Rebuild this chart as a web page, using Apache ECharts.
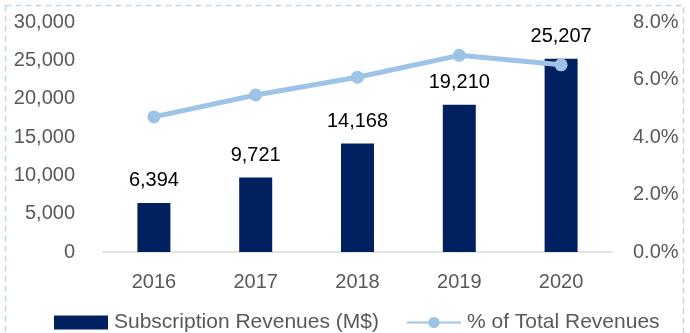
<!DOCTYPE html>
<html><head><meta charset="utf-8">
<script src="https://cdn.jsdelivr.net/npm/echarts@6/dist/echarts.min.js"></script>
<style>html,body{margin:0;padding:0;background:#fff}#c{width:690px;height:333px}</style>
</head><body><div id="c"></div>
<script>
const categories = ['2016','2017','2018','2019','2020'];
const subscriptionRevenues = [6394, 9721, 14168, 19210, 25207];
const pctOfTotal = [4.70, 5.46, 6.08, 6.84, 6.51];
const leftTicks = [0, 5000, 10000, 15000, 20000, 25000, 30000];
const rightTicks = [0, 2, 4, 6, 8];

const FONT = 'Liberation Sans';
const chart = echarts.init(document.getElementById('c'), null, {renderer:'canvas'});
chart.setOption({
  animation: false,
  textStyle: {fontFamily: FONT},
  graphic: [{
    type: 'rect', shape: {x: 5.5, y: 5.5, width: 678, height: 340},
    style: {fill: 'none', stroke: '#BDD7EE', lineWidth: 1.5, lineDash: [6, 4]}, silent: true
  }],
  grid: {left: 103, right: 78, top: 22, bottom: 81},
  legend: {
    top: 307, left: 49, itemGap: 27, itemWidth: 54, itemHeight: 14,
    textStyle: {fontFamily: FONT, fontSize: 21, color: '#595959', padding: [0, 0, 0, 1]},
    data: [
      {name: 'Subscription Revenues (M$)', icon: 'rect'},
      {name: '% of Total Revenues'}
    ]
  },
  xAxis: {
    type: 'category', data: categories,
    axisLine: {show: true, lineStyle: {color: '#D9D9D9', width: 1.5}}, axisTick: {show: false},
    axisLabel: {fontFamily: FONT, fontSize: 20, color: '#595959', margin: 20}
  },
  yAxis: [{
    type: 'value', min: 0, max: 30000, interval: 5000,
    splitLine: {show: false}, axisLine: {show: false}, axisTick: {show: false},
    axisLabel: {fontFamily: FONT, fontSize: 20, color: '#595959', margin: 28,
      formatter: v => leftTicks.includes(v) ? v.toLocaleString('en-US') : ''}
  }, {
    type: 'value', min: 0, max: 8, interval: 2,
    splitLine: {show: false}, axisLine: {show: false}, axisTick: {show: false},
    axisLabel: {fontFamily: FONT, fontSize: 20, color: '#595959', margin: 21,
      formatter: v => rightTicks.includes(v) ? v.toFixed(1) + '%' : ''}
  }],
  series: [{
    name: 'Subscription Revenues (M$)', type: 'bar', data: subscriptionRevenues,
    barWidth: 33, itemStyle: {color: '#002060'},
    label: {show: true, position: 'top', distance: 12, color: '#000', fontFamily: FONT, fontSize: 20,
      formatter: p => p.value.toLocaleString('en-US')}
  }, {
    name: '% of Total Revenues', type: 'line', yAxisIndex: 1, data: pctOfTotal,
    lineStyle: {color: '#9DC3E6', width: 5}, itemStyle: {color: '#9DC3E6'},
    symbol: 'circle', symbolSize: 13
  }]
});
</script></body></html>
